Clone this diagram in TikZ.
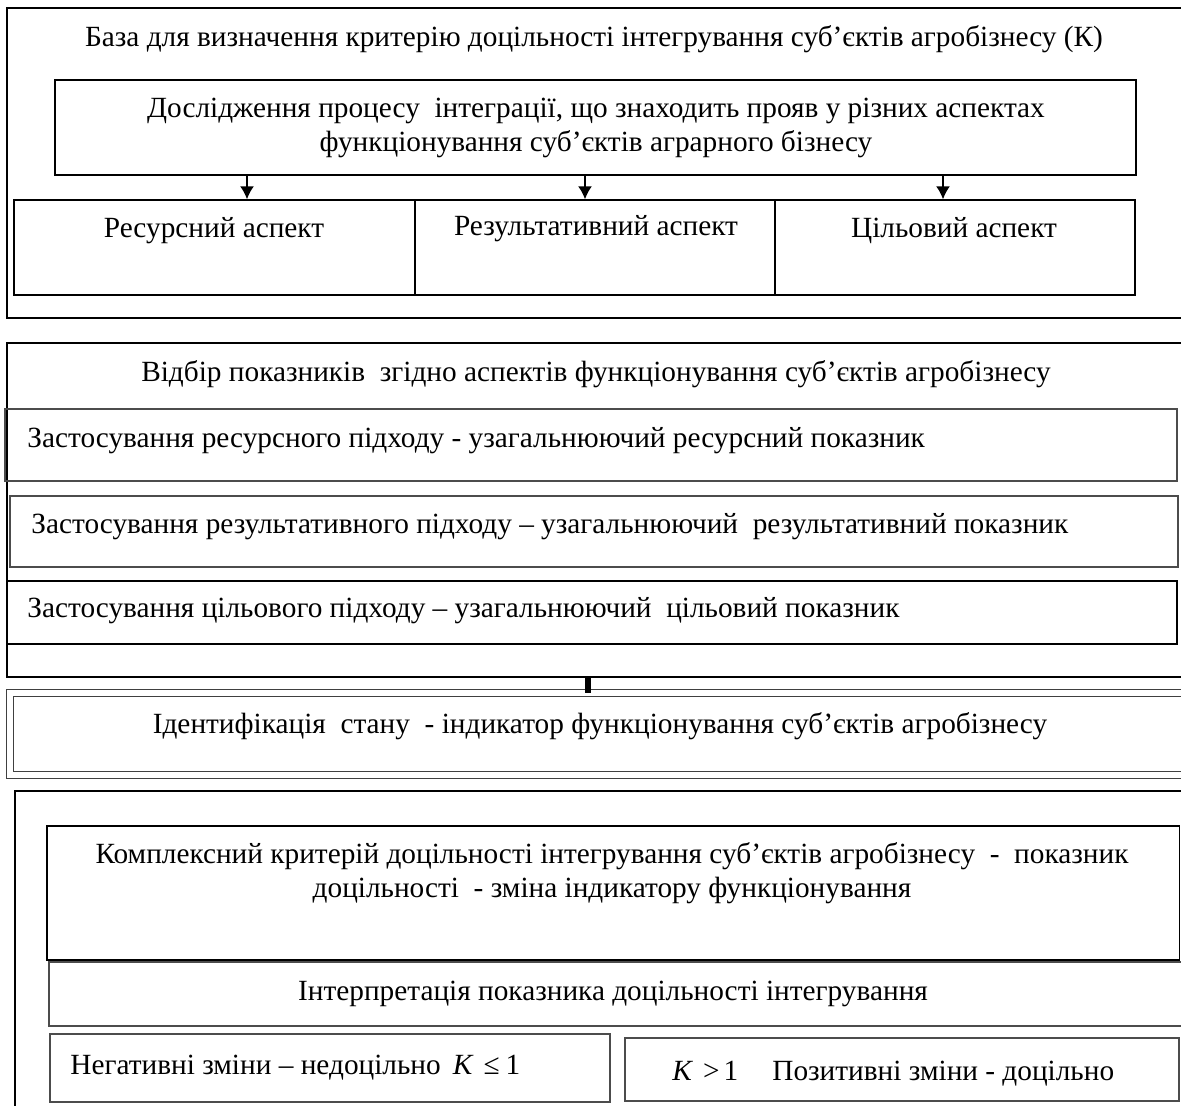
\documentclass[tikz,border=0pt]{standalone}
\usepackage{fontspec}
\setmainfont{Liberation Serif}
\usetikzlibrary{positioning,fit,arrows.meta}

\begin{document}
\begin{tikzpicture}[x=0.5pt,y=-0.5pt,
    every node/.style={font=\fontsize{14.65}{17}\selectfont},
    frame/.style={draw, line width=0.7pt, inner sep=0pt},
    greybox/.style={draw=black!70, line width=0.6pt, inner sep=0pt},
    txt/.style={inner sep=0pt, anchor=base},
    arr/.style={-{Latex[length=6.5pt,width=7pt]}, line width=0.8pt}]
\useasboundingbox (0,0) rectangle (1181,1106);

% base for the criterion
\node[frame, fit={(7,8) (1195,318)}] (basa) {};
\node[txt] (basatxt) at (594,47) {База для визначення критерію доцільності інтегрування суб’єктів агробізнесу (К)};
\node[frame, fit={(55,80) (1136,175)}] (doslid) {};
\node[txt] (doslidtxt) at (596,118) {Дослідження процесу\ \ інтеграції, що знаходить прояв у різних аспектах};
\node[txt] (doslidtxtb) at (596,152) {функціонування суб’єктів аграрного бізнесу};
\node[frame, fit={(14,200) (415,295)}] (resasp) {};
\node[frame, fit={(415,200) (775,295)}] (rezasp) {};
\node[frame, fit={(775,200) (1135,295)}] (cilasp) {};
\node[txt] (resasptxt) at (214,238) {Ресурсний аспект};
\node[txt] (rezasptxt) at (596,236) {Результативний аспект};
\node[txt] (cilasptxt) at (954,238) {Цільовий аспект};
\coordinate (ares) at (247,0);
\coordinate (arez) at (585,0);
\coordinate (acil) at (943,0);
\draw[arr] (doslid.south -| ares) -- (resasp.north -| ares);
\draw[arr] (doslid.south -| arez) -- (rezasp.north -| arez);
\draw[arr] (doslid.south -| acil) -- (cilasp.north -| acil);

% choice of indicators
\node[frame, fit={(7,343) (1195,677)}] (vidbir) {};
\node[txt] (vidbirtxt) at (596,382) {Відбір показників\ \ згідно аспектів функціонування суб’єктів агробізнесу};
\node[greybox, fit={(5,409) (1177,481)}] (resp) {};
\node[greybox, fit={(10,496) (1178,567)}] (rezp) {};
\node[frame, fit={(7,581) (1177,644)}] (cilp) {};
\node[txt, anchor=base west] (resptxt) at (27,447) {Застосування ресурсного підходу - узагальнюючий ресурсний показник};
\node[txt, anchor=base west] (rezptxt) at (31,533) {Застосування результативного підходу – узагальнюючий\ \ результативний показник};
\node[txt, anchor=base west] (cilptxt) at (27,617) {Застосування цільового підходу – узагальнюючий\ \ цільовий показник};

% state identification
\node[draw=black!75, double, double distance=3pt, line width=0.5pt, inner sep=0pt,
    fit={(10,693) (1195,774.5)}] (ident) {};
\node[txt] (identtxt) at (600,733) {Ідентифікація\ \ стану\ \ - індикатор функціонування суб’єктів агробізнесу};
\coordinate (link) at (588,0);
\draw[line width=3pt] (vidbir.south -| link) -- (ident.north -| link);

% complex criterion
\node[frame, fit={(15,791) (1195,1125)}] (compl) {};
\node[frame, fit={(47,826) (1179.5,960)}] (kompl) {};
\node[txt] (kompltxt) at (612,863) {Комплексний критерій доцільності інтегрування суб’єктів агробізнесу\ \ -\ \ показник};
\node[txt] (kompltxtb) at (612,897) {доцільності\ \ - зміна індикатору функціонування};
\node[greybox, fit={(49,962) (1195,1026)}] (interp) {};
\node[txt] (interptxt) at (613,1000) {Інтерпретація показника доцільності інтегрування};
\node[greybox, fit={(50,1034) (610,1102)}] (neg) {};
\node[greybox, fit={(625,1038) (1179,1101)}] (pos) {};
\node[txt, anchor=base west] (negtxt) at (70,1074) {Негативні зміни – недоцільно\hspace{6pt}\textit{K}\hspace{5pt}≤\hspace{3pt}1};
\node[txt, anchor=base west] (postxt) at (672,1080) {\textit{K}\hspace{5pt}>\hspace{2pt}1\hspace{17pt}Позитивні зміни - доцільно};
\end{tikzpicture}
\end{document}
